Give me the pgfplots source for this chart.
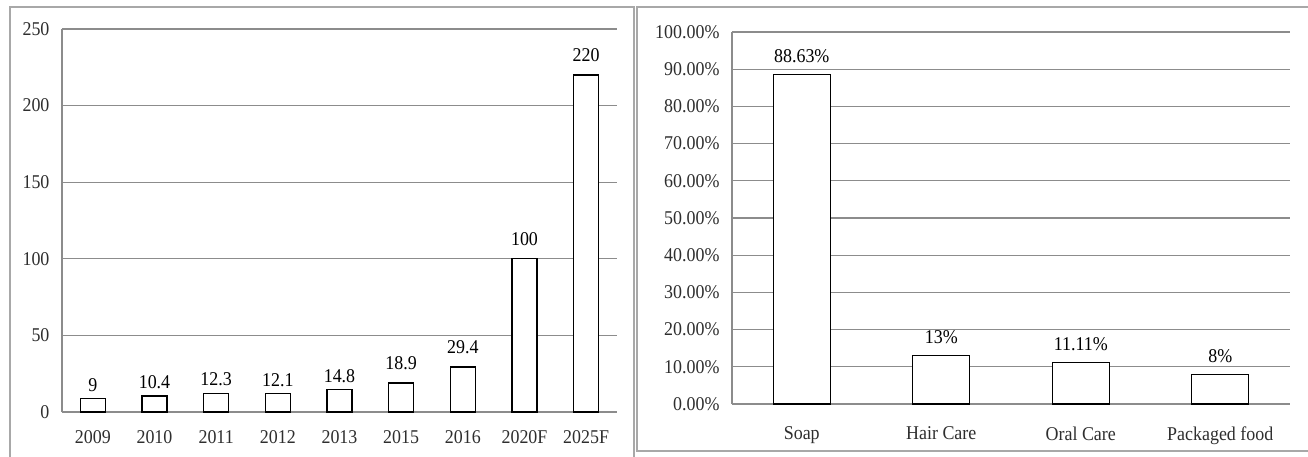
\documentclass[border=0pt]{standalone}
\usepackage{fontspec}
\setmainfont[FakeStretch=0.92]{Liberation Serif}
\usepackage{pgfplots}
\pgfplotsset{compat=1.18}
\definecolor{gridgray}{HTML}{8C8C8C}
\definecolor{framegray}{HTML}{A8A8A8}
\definecolor{ticktext}{HTML}{2E2E2E}

\pgfplotsset{
  panel/.style={
    scale only axis,
    axis x line*=bottom,
    axis y line*=left,
    axis line style={gridgray, line width=1.1pt},
    ymajorgrids,
    grid style={gridgray, line width=1.1pt},
    major tick length=0pt,
    ybar,
    /pgf/number format/assume math mode=true,
    tick label style={font=\fontsize{19.5}{21}\selectfont, text=ticktext},
    xticklabel style={yshift=-15pt},
    yticklabel style={xshift=-9pt},
    every node near coord/.append style={font=\fontsize{19.5}{21}\selectfont, text=black},
  },
  barstyle/.style={draw=black, fill=white, line width=1.2pt, bar shift=0pt},
}

\begin{document}
\begin{tikzpicture}[x=1pt,y=1pt]
\useasboundingbox (0,0) rectangle (1308,456);

% frames around the two panels
\draw[framegray, line width=1.5pt] (10,-5) -- (10,449) -- (634,449) -- (634,-5);
\draw[framegray, line width=1.5pt] (1320,5) -- (637,5) -- (637,449) -- (1320,449);

% left panel: yearly values
\begin{axis}[
  panel,
  at={(62pt,44pt)}, anchor=south west,
  width=555pt, height=383pt,
  xmin=-0.5, xmax=8.5,
  ymin=0, ymax=250,
  ytick={0,50,100,150,200,250},
  xtick={0,1,2,3,4,5,6,7,8},
  xticklabels={2009,2010,2011,2012,2013,2015,2016,2020F,2025F},
  bar width=25pt,
  nodes near coords,
]
\addplot[barstyle, every node near coord/.append style={yshift=3pt}]
  coordinates {(0,9) (1,10.4) (2,12.3) (3,12.1) (4,14.8)};
\addplot[barstyle, every node near coord/.append style={yshift=9pt}]
  coordinates {(5,18.9) (6,29.4) (7,100) (8,220)};
\end{axis}

% right panel: category shares
\begin{axis}[
  panel,
  at={(732pt,52pt)}, anchor=south west,
  width=558pt, height=372pt,
  xmin=-0.5, xmax=3.5,
  ymin=0, ymax=100,
  ytick={0,10,20,30,40,50,60,70,80,90,100},
  yticklabels={0.00\%,10.00\%,20.00\%,30.00\%,40.00\%,50.00\%,60.00\%,70.00\%,80.00\%,90.00\%,100.00\%},
  xtick={0,1,2,3},
  xticklabel style={yshift=-4pt},
  xticklabels={Soap,Hair Care,Oral Care,Packaged food},
  bar width=57pt,
  nodes near coords={\pgfmathprintnumber[fixed]{\pgfplotspointmeta}\%},
  every node near coord/.append style={yshift=8pt},
]
\addplot[barstyle] coordinates {(0,88.63) (1,13) (2,11.11) (3,8)};
\end{axis}
\end{tikzpicture}
\end{document}
